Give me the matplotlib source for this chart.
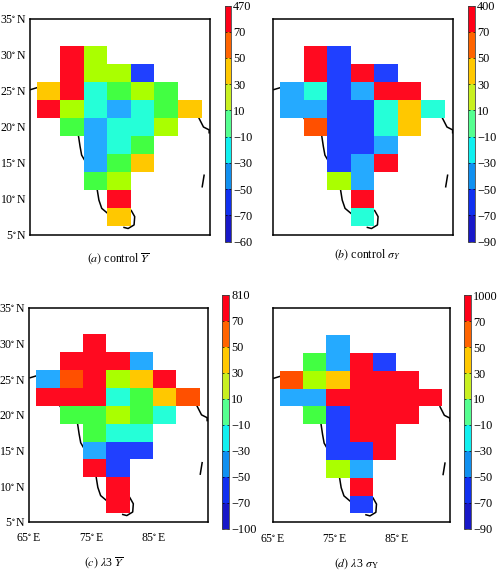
#!/usr/bin/env python3
"""Four-panel gridded map of yield mean and spread over India (control and lambda3)."""
import matplotlib
matplotlib.use("Agg")
import matplotlib.pyplot as plt
import numpy as np
from matplotlib.cm import ScalarMappable
from matplotlib.colors import BoundaryNorm, ListedColormap

plt.rcParams["font.family"] = ["Liberation Serif", "DejaVu Serif"]
plt.rcParams["mathtext.fontset"] = "stix"

W, H = 497, 570
N = np.nan

# grid cell edges (3.75 x 2.5 degree boxes)
lon_edges = [66.15, 69.9, 73.65, 77.4, 81.15, 84.9, 88.65, 92.4]
lat_edges = [31.25, 28.75, 26.25, 23.75, 21.25, 18.75, 16.25, 13.75, 11.25, 8.75, 6.25]

# bands of the colour bar, bottom to top
band_edges = [-90, -70, -50, -30, -10, 10, 30, 50, 70, 90]
cell_colors = ["#1c1cd0", "#2040ff", "#25aaff", "#25ffd8", "#42ff42",
               "#aaff00", "#ffc800", "#ff5000", "#ff0a20"]
bar_colors = ["#1818c8", "#1030f0", "#1090f0", "#10f0f0", "#55ff90",
              "#c8f020", "#ffc800", "#ff6400", "#ff0018"]

# values, to the nearest colour band
control_mean = [
    [N, 80, 20, N, N, N, N],
    [N, 80, 20, 20, -60, N, N],
    [40, 80, -20, 0, 20, 0, N],
    [80, 20, -20, -40, -20, 0, 40],
    [N, 0, -40, -20, -20, 20, N],
    [N, N, -40, -20, 0, N, N],
    [N, N, -40, 0, 40, N, N],
    [N, N, 0, 20, N, N, N],
    [N, N, N, 80, N, N, N],
    [N, N, N, 40, N, N, N],
]
control_sd = [
    [N, 80, -60, N, N, N, N],
    [N, 80, -60, 80, -60, N, N],
    [-40, -20, -60, -40, 80, 80, N],
    [-40, -40, -60, -60, -20, 40, -20],
    [N, 60, -60, -60, -20, 40, N],
    [N, N, -60, -60, -40, N, N],
    [N, N, -60, -40, 80, N, N],
    [N, N, 20, -40, N, N, N],
    [N, N, N, 80, N, N, N],
    [N, N, N, -20, N, N, N],
]
lambda3_mean = [
    [N, N, 80, N, N, N, N],
    [N, 80, 80, 80, -40, N, N],
    [-40, 60, 80, 20, 40, 80, N],
    [80, 80, 80, -20, 0, 40, 60],
    [N, 0, 0, 20, 0, -20, N],
    [N, N, 0, -20, -20, N, N],
    [N, N, -40, -60, -60, N, N],
    [N, N, 80, -60, N, N, N],
    [N, N, N, 80, N, N, N],
    [N, N, N, 80, N, N, N],
]
lambda3_sd = [
    [N, N, -40, N, N, N, N],
    [N, 0, -40, 80, -60, N, N],
    [60, 20, 40, 80, 80, 80, N],
    [-40, -40, 80, 80, 80, 80, 80],
    [N, 0, -60, 80, 80, 80, N],
    [N, N, -60, 80, 80, N, N],
    [N, N, -60, -60, 80, N, N],
    [N, N, 20, -40, N, N, N],
    [N, N, N, 80, N, N, N],
    [N, N, N, -60, N, N, N],
]

# colour bar labels, top to bottom, as printed
labels_a = ["470", "70", "50", "30", "10", "\u221210", "\u221230", "\u221250", "\u221270", "\u221260"]
labels_b = ["400", "70", "50", "30", "10", "\u221210", "\u221230", "\u221250", "\u221270", "\u221290"]
labels_c = ["810", "70", "50", "30", "10", "\u221210", "\u221230", "\u221250", "\u221270", "\u2212100"]
labels_d = ["1000", "70", "50", "30", "10", "\u221210", "\u221230", "\u221250", "\u221270", "\u221290"]

# bits of coastline that show beside the boxes (lon, lat)
coast = [
    ([65.2, 66.15], [25.2, 25.45]),
    ([70.0, 70.2], [21.2, 20.9]),
    ([72.8, 73.05, 73.3, 73.7], [18.75, 17.3, 16.1, 15.5]),
    ([75.8, 76.05, 76.5, 77.45], [11.2, 9.85, 8.7, 8.0]),
    ([81.2, 81.75, 81.65, 80.7, 80.05], [8.4, 7.55, 6.4, 5.9, 6.05]),
    ([92.0, 92.7, 93.6, 93.6], [21.2, 20.0, 19.6, 19.2]),
    ([92.8, 92.5], [13.3, 11.7]),
]

lon_ticks = [65, 75, 85]
lat_ticks = [5, 10, 15, 20, 25, 30, 35]


def px_rect(x0, y0, x1, y1):
    return [x0 / W, 1 - y1 / H, (x1 - x0) / W, (y1 - y0) / H]


def draw_panel(fig, grid, labels, ax_box, bar_box, caption, cap_xy, show_x, show_y):
    ax = fig.add_axes(px_rect(*ax_box))
    for lon, lat in coast:
        ax.plot(lon, lat, color="black", lw=1.1, zorder=1)
    ax.pcolormesh(lon_edges, lat_edges, np.ma.masked_invalid(grid), cmap=cell_cmap, norm=norm, zorder=2)
    ax.set_xlim(65, 93.66)
    ax.set_ylim(5, 35)
    ax.set_xticks(lon_ticks if show_x else [])
    ax.set_xticklabels([rf"{v}$^{{\circ}}\,$E" for v in lon_ticks] if show_x else [])
    ax.set_yticks(lat_ticks if show_y else [])
    ax.set_yticklabels([rf"{v}$^{{\circ}}\,$N" for v in lat_ticks] if show_y else [])
    ax.tick_params(length=0, labelsize=8.5)
    ax.tick_params(axis="x", pad=7.5)
    ax.tick_params(axis="y", pad=2)
    for s in ax.spines.values():
        s.set_linewidth(1.1)

    cax = fig.add_axes(px_rect(*bar_box))
    sm = ScalarMappable(norm=norm, cmap=bar_cmap)
    cb = fig.colorbar(sm, cax=cax, spacing="uniform", drawedges=False)
    cb.set_ticks(band_edges)
    cb.set_ticklabels(labels[::-1])
    cb.minorticks_off()
    cb.outline.set_linewidth(0.6)
    cb.outline.set_edgecolor("#444444")
    cax.tick_params(direction="in", length=1.5, width=0.5, left=True, right=True,
                    labelsize=8.8, pad=1.5)

    fig.text(cap_xy[0] / W, 1 - cap_xy[1] / H, caption, ha="center", va="center", fontsize=8.6)


norm = BoundaryNorm(band_edges, 9)
cell_cmap = ListedColormap(cell_colors)
bar_cmap = ListedColormap(bar_colors)

fig = plt.figure(figsize=(W / 100, H / 100), dpi=100)
draw_panel(fig, control_mean, labels_a, (29.5, 19, 209.5, 235), (224.5, 5.5, 231, 241.5),
           r"$(a)$ control $\overline{Y}$", (118, 259), False, True)
draw_panel(fig, control_sd, labels_b, (272.7, 19, 453, 235), (468, 5.5, 475, 241.5),
           r"$(b)$ control $\sigma_{Y}$", (367, 255), False, False)
draw_panel(fig, lambda3_mean, labels_c, (29, 307.7, 207.5, 522), (222, 294.5, 229, 528.5),
           r"$(c)$ $\lambda$3 $\overline{Y}$", (104, 563), True, True)
draw_panel(fig, lambda3_sd, labels_d, (272.7, 308.3, 450.3, 522.3), (464.3, 295.3, 471.3, 528.5),
           r"$(d)$ $\lambda$3 $\sigma_{\rm Y}$", (356, 564), True, False)

fig.savefig("out.png", dpi=100)
plt.close(fig)
